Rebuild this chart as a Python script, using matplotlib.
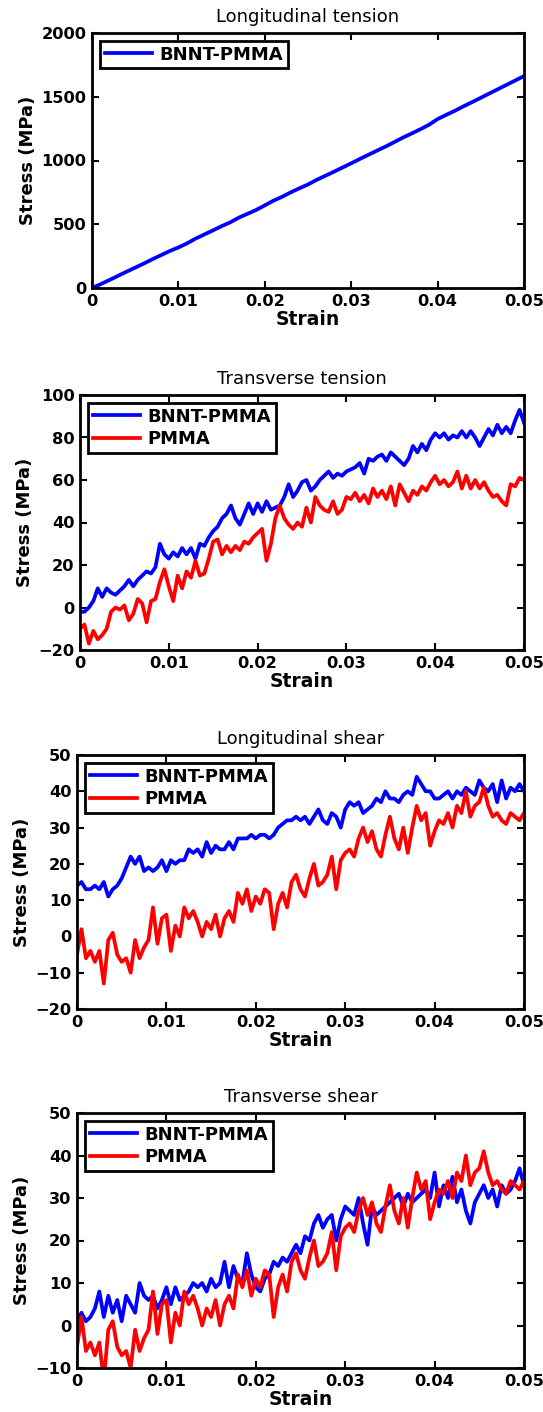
import numpy as np
import matplotlib
matplotlib.use("Agg")
import matplotlib.pyplot as plt

# ---- data (stress in MPa) ----
lt_bnnt = [0, 30, 62, 95, 128, 160, 192, 226, 258, 290,
           318, 350, 388, 420, 452, 485, 515, 552, 582, 612,
           648, 685, 715, 750, 782, 812, 848, 880, 912, 945,
           978, 1012, 1045, 1078, 1110, 1145, 1180, 1212, 1245, 1280,
           1325, 1358, 1390, 1425, 1458, 1492, 1526, 1560, 1594, 1628,
           1662]

tt_bnnt = [-2, -2, 0, 3, 9, 5, 9, 7, 6, 8,
           10, 13, 10, 13, 15, 17, 16, 19, 30, 25,
           23, 26, 24, 28, 25, 28, 23, 30, 29, 33,
           36, 38, 42, 44, 48, 42, 39, 44, 49, 44,
           49, 45, 50, 46, 47, 48, 52, 58, 52, 55,
           59, 60, 55, 57, 60, 62, 64, 61, 63, 62,
           64, 65, 66, 68, 63, 70, 69, 71, 72, 69,
           73, 71, 69, 67, 70, 76, 73, 77, 74, 79,
           82, 80, 82, 79, 81, 80, 83, 80, 83, 80,
           76, 80, 84, 81, 86, 82, 85, 82, 88, 93,
           87]
tt_pmma = [-10, -8, -17, -11, -15, -13, -10, -2, 0, -1,
           1, -6, -3, 4, 2, -7, 3, 4, 12, 18,
           10, 3, 15, 9, 17, 14, 22, 15, 16, 23,
           31, 32, 25, 29, 26, 29, 27, 31, 30, 33,
           35, 37, 22, 30, 42, 48, 42, 39, 37, 40,
           38, 47, 40, 52, 48, 46, 45, 50, 44, 46,
           52, 51, 54, 50, 53, 49, 56, 52, 55, 51,
           57, 48, 58, 54, 50, 55, 53, 57, 55, 59,
           62, 58, 60, 57, 59, 64, 56, 62, 56, 60,
           56, 59, 55, 52, 53, 50, 48, 58, 57, 61,
           60]

ls_bnnt = [14, 15, 13, 13, 14, 13, 15, 11, 13, 14,
           16, 19, 22, 20, 22, 18, 19, 18, 19, 21,
           18, 21, 20, 21, 21, 24, 23, 24, 22, 26,
           23, 25, 24, 24, 26, 24, 27, 27, 27, 28,
           27, 28, 28, 27, 28, 30, 31, 32, 32, 33,
           32, 33, 31, 33, 35, 32, 31, 34, 33, 30,
           35, 37, 36, 37, 34, 35, 36, 38, 37, 40,
           38, 38, 37, 39, 40, 39, 44, 42, 40, 40,
           38, 38, 39, 40, 38, 40, 39, 41, 40, 39,
           43, 41, 40, 42, 37, 43, 38, 41, 40, 42,
           40]
shear_pmma = [-5, 2, -6, -4, -7, -4, -13, -1, 1, -5,
              -7, -6, -10, -1, -6, -3, -1, 8, -2, 5,
              6, -4, 3, 0, 8, 5, 7, 4, 0, 4,
              2, 6, 0, 5, 7, 4, 12, 9, 13, 7,
              11, 9, 13, 12, 2, 9, 12, 8, 15, 17,
              13, 11, 16, 20, 14, 15, 17, 22, 13, 21,
              23, 24, 22, 27, 30, 26, 29, 24, 22, 28,
              33, 27, 24, 30, 23, 30, 36, 32, 34, 25,
              29, 32, 31, 34, 30, 36, 34, 40, 33, 36,
              37, 41, 36, 33, 34, 32, 31, 34, 33, 32,
              34]

ts_bnnt = [1, 3, 1, 2, 4, 8, 2, 7, 3, 6,
           1, 7, 5, 3, 10, 7, 6, 7, 4, 6,
           9, 5, 9, 6, 7, 8, 10, 9, 10, 8,
           11, 9, 10, 15, 9, 14, 11, 10, 17, 12,
           9, 8, 11, 12, 15, 14, 16, 15, 17, 19,
           17, 21, 20, 24, 26, 23, 25, 26, 20, 25,
           28, 27, 26, 30, 24, 19, 28, 26, 27, 28,
           29, 30, 31, 28, 31, 29, 30, 31, 32, 30,
           36, 28, 33, 30, 35, 29, 32, 27, 24, 29,
           31, 33, 30, 32, 28, 33, 31, 32, 34, 37,
           33]

panels = [
    ("Longitudinal tension", [(lt_bnnt, "BNNT-PMMA", "#0000ff")],
     (0, 2000), [0, 500, 1000, 1500, 2000]),
    ("Transverse tension", [(tt_bnnt, "BNNT-PMMA", "#0000ff"), (tt_pmma, "PMMA", "#ff0000")],
     (-20, 100), [-20, 0, 20, 40, 60, 80, 100]),
    ("Longitudinal shear", [(ls_bnnt, "BNNT-PMMA", "#0000ff"), (shear_pmma, "PMMA", "#ff0000")],
     (-20, 50), [-20, -10, 0, 10, 20, 30, 40, 50]),
    ("Transverse shear", [(ts_bnnt, "BNNT-PMMA", "#0000ff"), (shear_pmma, "PMMA", "#ff0000")],
     (-10, 50), [-10, 0, 10, 20, 30, 40, 50]),
]

xticks = [0, 0.01, 0.02, 0.03, 0.04, 0.05]
xticklabels = ["0", "0.01", "0.02", "0.03", "0.04", "0.05"]

W, H = 543, 1412
# axes boxes in pixels: left, top, right, bottom
boxes = [(92, 33, 524, 288), (80, 395, 524, 650), (77, 755, 524, 1009), (77, 1113, 524, 1368)]

fig = plt.figure(figsize=(W / 100, H / 100), dpi=100)
for (title, series, ylim, yticks), (l, t, r, b) in zip(panels, boxes):
    ax = fig.add_axes([l / W, 1 - b / H, (r - l) / W, (b - t) / H])
    for vals, lab, col in series:
        x = np.linspace(0, 0.05, len(vals))
        ax.plot(x, vals, color=col, lw=2.7, label=lab)
    ax.set_xlim(0, 0.05)
    ax.set_ylim(*ylim)
    ax.set_xticks(xticks)
    ax.set_xticklabels(xticklabels)
    ax.set_yticks(yticks)
    ax.tick_params(direction="in", length=5, width=1.5, top=True, right=True,
                   labelsize=11.7, pad=4)
    for lbl in ax.get_xticklabels() + ax.get_yticklabels():
        lbl.set_fontweight("bold")
    for s in ax.spines.values():
        s.set_linewidth(2.0)
    ax.set_title(title, fontsize=13, pad=8)
    ax.set_xlabel("Strain", fontsize=13.5, fontweight="bold", labelpad=1)
    ax.set_ylabel("Stress (MPa)", fontsize=13, fontweight="bold", labelpad=3)
    leg = ax.legend(loc="upper left", prop={"weight": "bold", "size": 13},
                    handlelength=2.6, handletextpad=0.45, borderaxespad=0.45,
                    borderpad=0.25, labelspacing=0.25, fancybox=False,
                    framealpha=1, edgecolor="black")
    leg.get_frame().set_linewidth(2.0)

fig.savefig("out.png", dpi=100)
